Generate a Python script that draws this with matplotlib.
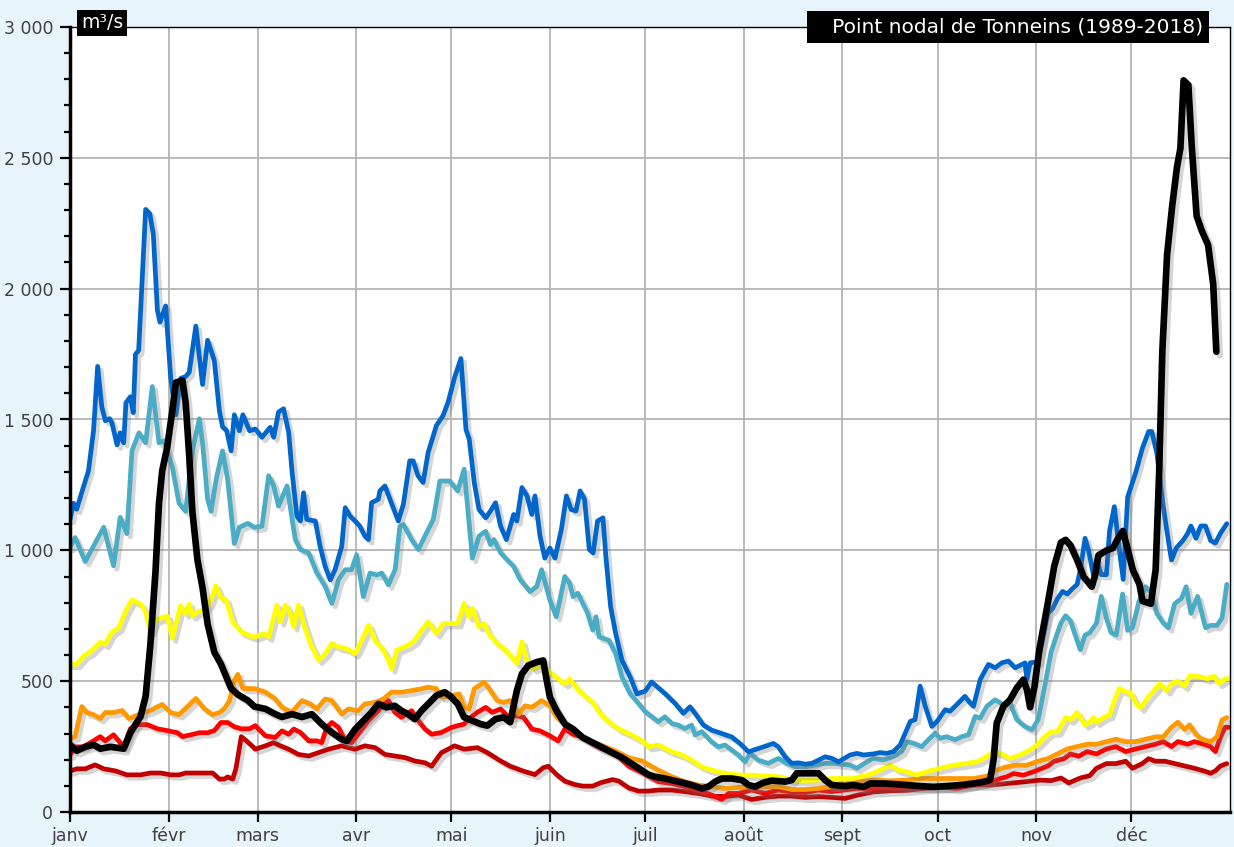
import matplotlib
matplotlib.use("Agg")
import matplotlib.pyplot as plt
import matplotlib.patheffects as pe
from matplotlib.ticker import FixedLocator, MultipleLocator, FuncFormatter

plt.rcParams['font.family'] = ['DejaVu Sans']

# ---------------- data ----------------
month_labels = ["janv", "févr", "mars", "avr", "mai", "juin", "juil", "août", "sept", "oct", "nov", "déc"]
month_start = [0, 31, 59, 90, 120, 151, 181, 212, 243, 273, 304, 334]
unit_label = "m³/s"
title_label = "Point nodal de Tonneins (1989-2018)"

blue_day = [0, 1.1, 2.1, 4.2, 5.8, 7.4, 8.7, 10, 11.1, 12.5, 13.2, 14.8, 15.8, 16.9, 17.6, 19, 19.9, 20.6, 21.6, 23.8, 25.1, 26.2, 27.5, 28.3, 30.1, 31.7, 33.3, 34.8, 36.4, 37.5, 39.6, 41.7, 43.3, 45.4, 47, 48, 49.3, 50.7, 51.7, 53.3, 54.4, 56.5,
            58.3, 60.4, 63, 64.1, 65.6, 67.2, 68.8, 69.9, 71.4, 72.5, 73.5, 74.5, 77.2, 78.7, 80.3, 81.9, 83.4, 85.5, 86.6, 88.1, 89.7, 91.2, 92.8, 93.9, 94.9, 97, 97.5, 99.1, 100.7, 102.3, 103.3, 104.9, 106.9, 108, 109.5, 111.1, 112.7, 115.3, 117.4, 119,
            121, 123, 124.6, 125.6, 127.2, 128.7, 130.8, 132.3, 133.9, 135.5, 137.3, 139.6, 140.6, 142.2, 143.8, 145.3, 146.3, 147.9, 149.4, 151, 152.6, 154.6, 156.2, 157.7, 159.2, 160.5, 161.9, 163.4, 164.6, 166, 167.7, 168.6, 170.1, 171.7, 173.7, 176.3, 178.4, 181,
            183, 187.2, 190.4, 193, 195.1, 196.7, 199.3, 201.9, 205.1, 208.2, 210.8, 213.5, 218.2, 221.3, 222.9, 225, 227.1, 229.2, 231.3, 233.4, 235.5, 237.6, 239.7, 241.8,
            245.5, 247.6, 249.7, 252.8, 254.9, 257, 259.1, 261.2, 262.8, 264.4, 265.9, 267.5, 269.1, 271.2, 272.8, 275.4, 276.9, 279, 281.6, 283.2, 284.3, 286.4, 289, 291.1, 293.2, 295.3, 297.4, 300.5, 301.1, 302.1,
            304.6, 307.7, 309.2, 310.7, 312.3, 313.8, 315.3, 316.9, 317.9, 319.4, 320.5, 322, 323, 324.5, 326.1, 327.1, 328.6, 330.2, 331.4, 332.8, 335.3, 337.4, 339.4, 340.4, 342, 344, 345.6, 346.6, 348.1, 350.2, 351.7, 352.7, 354.3, 355.8, 357.3, 358.9, 360.4, 362, 364]
blue_val = [1118, 1180, 1157, 1241, 1303, 1457, 1703, 1549, 1495, 1503, 1487, 1403, 1449, 1411, 1564, 1587, 1526, 1749, 1764, 2303, 2287, 2210, 1918, 1872, 1934, 1657, 1518, 1657, 1664, 1680, 1857, 1634, 1803, 1726, 1534, 1472, 1457, 1380, 1518, 1457, 1518, 1457,
            1464, 1432, 1470, 1432, 1528, 1541, 1451, 1297, 1131, 1112, 1220, 1118, 1112, 1015, 938, 887, 926, 1015, 1163, 1131, 1112, 1092, 1054, 1041, 1182, 1195, 1227, 1246, 1195, 1144, 1112, 1176, 1342, 1342, 1285, 1259, 1374, 1477, 1515, 1567,
            1660, 1733, 1462, 1426, 1259, 1156, 1124, 1150, 1182, 1092, 1041, 1137, 1112, 1240, 1208, 1137, 1208, 1054, 970, 1009, 970, 1079, 1208, 1156, 1150, 1227, 1195, 1003, 990, 1112, 1124, 977, 785, 682, 579, 515, 451, 462,
            497, 453, 415, 377, 402, 377, 332, 313, 300, 287, 262, 230, 249, 262, 249, 211, 186, 188, 183, 186, 198, 211, 205, 192,
            218, 224, 218, 222, 227, 224, 231, 256, 301, 346, 353, 481, 404, 327, 346, 391, 385, 410, 442, 417, 404, 506, 564, 551, 570, 577, 551, 570, 506, 570,
            574, 759, 778, 815, 843, 833, 852, 870, 926, 1046, 1000, 907, 963, 907, 907, 1074, 1167, 1000, 889, 1204, 1296, 1389, 1454, 1454, 1370, 1167, 1037, 963, 1009, 1037, 1065, 1093, 1046, 1093, 1093, 1037, 1028, 1065, 1102]

teal_day = [0, 1.6, 4.8, 10.6, 13.7, 15.8, 17.9, 19.5, 21.7, 23.8, 25.9, 28, 29.6, 32.2, 34.3, 36.4, 38.5, 40.7, 41.7, 43.3, 44.4, 46, 48, 49.6, 51.7, 53.3, 56, 58,
            60.4, 62.5, 64.1, 65.6, 68.3, 69.9, 70.9, 72.5, 75.1, 77.7, 80.3, 82.4, 84.5, 86.6, 88.6, 90.2, 92.3, 94.4, 96.5, 98.1, 100.2, 102.3, 103.8, 104.9, 107.5, 109.6, 111.7, 114.3, 116.4, 119.5,
            122, 124, 126.6, 128.7, 130.8, 132.3, 133.4, 135.5, 138, 139.6, 141.7, 144.8, 146.9, 148.4, 151, 153, 155.7, 157.2, 158.3, 159.8, 162.9, 164.5, 165.5, 166.5, 169.6, 171.7, 173.7, 176.3, 179,
            181, 182.5, 185.1, 187.2, 189.4, 191.4, 193.5, 195.6, 196.7, 198.8, 201.9, 204, 206.1, 208.2, 210.3, 212.4, 214, 216.6, 219.7, 222.9, 225.5, 228.2, 231.3, 234.4, 237.6, 240.7,
            245.5, 247.6, 250.8, 252.8, 256, 259.1, 261.7, 263.3, 265.4, 268, 270.6, 272.2, 273.8, 275.9, 278.5, 280.6, 282.7, 284.8, 286.4, 288.5, 291.1, 293.7, 295.8, 297.9, 300.5, 302.7,
            304.6, 306.7, 308.7, 310.2, 311.8, 313.3, 314.8, 316.3, 317.9, 319.4, 320.9, 323, 324.5, 326.1, 327.6, 329.2, 331.2, 332.8, 334.3, 336.4, 338.4, 340, 342, 344, 345.6, 347.6, 349.7, 351.2, 352.7, 354.8, 357.3, 358.9, 360.9, 362.5, 364]
teal_val = [1011, 1049, 957, 1088, 941, 1126, 1064, 1380, 1449, 1411, 1626, 1411, 1419, 1318, 1180, 1149, 1380, 1503, 1411, 1195, 1149, 1272, 1380, 1272, 1026, 1088, 1103, 1088,
            1092, 1285, 1246, 1169, 1246, 1118, 1041, 1003, 990, 913, 862, 797, 887, 926, 926, 983, 823, 913, 906, 913, 868, 926, 1092, 1099, 1041, 1003, 1054, 1118, 1265, 1265,
            1227, 1310, 970, 1054, 1073, 1022, 1041, 990, 958, 939, 887, 842, 862, 926, 810, 746, 900, 874, 823, 836, 759, 695, 746, 669, 656, 605, 515, 451, 413,
            383, 370, 345, 364, 338, 332, 319, 332, 294, 307, 268, 249, 256, 237, 218, 192, 224, 198, 186, 205, 186, 173, 173, 179, 186, 186,
            179, 167, 192, 205, 199, 212, 231, 269, 263, 250, 282, 301, 282, 288, 276, 288, 295, 365, 359, 404, 429, 410, 417, 353, 327, 314,
            352, 481, 611, 667, 722, 750, 731, 676, 620, 676, 685, 722, 824, 741, 685, 676, 833, 694, 704, 806, 861, 843, 759, 722, 704, 796, 815, 861, 759, 824, 704, 713, 713, 741, 870]

yellow_day = [0, 2.1, 4.2, 6.3, 9.5, 11.1, 13.2, 15.3, 17.4, 19.5, 22.2, 23.8, 25.3, 26.9, 30.6, 32.2, 33.3, 34.8, 36.4, 37.5, 38.5, 40.1, 42.2, 43.8, 45.9, 47.5, 49.1, 51.2, 53.9, 57,
              58.3, 61, 62.5, 65.1, 66.2, 67.8, 69.3, 70.4, 71.9, 73.5, 75.6, 78.2, 80.3, 82.4, 84.5, 87.1, 89.7, 91.8, 93.9, 96, 98.6, 100.2, 101.2, 102.8, 106.4, 108.5, 110.6, 112.7, 115.3, 117.4,
              119.9, 122, 124, 125.6, 126.6, 128.7, 130.3, 131.8, 133.9, 136.5, 138.5, 140.6, 142.2, 143.7, 145.8, 148.4, 151, 153.6, 155.7, 157.2, 158.8, 161.3, 164.5, 166.5, 169.1, 172.7, 176.3, 180,
              182, 185.1, 189.4, 192.5, 195.6, 198.8, 201.9, 206.1, 210.3, 214.5, 218.7, 222.9, 227.1, 231.3, 235.5, 239.7,
              242.3, 246.5, 250.8, 253.9, 258.1, 260.7, 263.3, 266.4, 269.6, 273.8, 278, 282.2, 285.4, 288.5, 290.6, 292.7, 295.8, 299, 302.1,
              304.6, 306.7, 308.7, 310.7, 313.3, 314.8, 316.9, 319.4, 320.9, 322, 323, 325.1, 327.1, 328.6, 330.2, 331.6, 333.8, 335.3, 336.9, 339, 341, 343, 345.1, 346.6, 348.6, 350.7, 352.3, 354.8, 357.9, 360, 361.5, 363.5, 364.6]
yellow_val = [565, 565, 595, 611, 649, 641, 688, 703, 765, 811, 795, 765, 688, 734, 749, 665, 718, 788, 757, 795, 749, 765, 772, 795, 864, 818, 811, 726, 688, 672,
              669, 682, 669, 791, 727, 791, 759, 708, 791, 720, 644, 580, 605, 644, 631, 624, 605, 656, 714, 656, 618, 580, 547, 618, 637, 656, 695, 727, 682, 720,
              720, 720, 797, 746, 778, 708, 720, 682, 650, 624, 599, 567, 650, 580, 547, 560, 535, 509, 490, 509, 483, 451, 419, 381, 349, 317, 297, 272,
              250, 256, 230, 218, 198, 173, 160, 148, 141, 141, 137, 135, 122, 120, 122, 128,
              128, 128, 141, 154, 179, 160, 154, 141, 154, 167, 179, 186, 192, 212, 231, 224, 205, 218, 237,
              259, 287, 306, 306, 361, 352, 380, 333, 343, 361, 343, 361, 370, 426, 472, 463, 454, 417, 398, 435, 463, 491, 463, 491, 500, 481, 519, 519, 509, 519, 491, 509, 509]

orange_day = [0, 1.6, 3.7, 5.3, 7.4, 9.5, 11.1, 13.7, 16.4, 18.5, 23.2, 25.3, 29, 31.7, 34.3, 37, 39.6, 42.2, 44.9, 47, 48.6, 50.2, 51.7, 52.8, 54.4, 56.5,
              58.3, 61.5, 64.6, 66.7, 69.8, 73, 75.6, 77.7, 80.3, 82.4, 85.5, 87.6, 90.7, 92.8, 96, 98.6, 101.2, 104.3, 107.5, 110.6, 112.7, 115.3, 116.9, 120,
              122.5, 124, 125.6, 127.2, 130.3, 132.3, 134.4, 136.5, 138.5, 141.2, 143.2, 145.3, 146.9, 148.4, 151, 153.1, 155.7, 159.3, 163.4, 167.6, 171.7, 175.8, 180,
              185.1, 189.4, 193.5, 197.7, 201.9, 206.1, 210.3, 214.5, 218.7, 222.9, 227.1, 231.3, 235.5, 239.7,
              247.6, 252.8, 258.1, 263.3, 267.5, 275.9, 284.3, 288.5, 291.6, 294.8, 297.9, 301.1,
              304.6, 307.7, 310.7, 313.8, 316.9, 320, 323, 326.1, 329.1, 332.2, 335.3, 338.4, 341.5, 344, 346.6, 348.6, 350.7, 352.3, 354.3, 356.3, 358.9, 360.9, 362.5, 364]
orange_val = [280, 288, 403, 380, 372, 357, 380, 380, 388, 357, 380, 388, 411, 380, 372, 403, 434, 395, 372, 380, 395, 426, 503, 526, 472, 472,
              471, 458, 432, 400, 381, 426, 413, 394, 432, 426, 374, 394, 387, 413, 419, 432, 458, 458, 464, 471, 477, 471, 439, 445,
              451, 400, 394, 471, 496, 464, 426, 419, 426, 374, 406, 400, 413, 426, 406, 362, 336, 304, 272, 253, 233, 208, 195,
              160, 135, 116, 103, 97, 90, 94, 97, 97, 97, 86, 86, 90, 97,
              115, 122, 119, 122, 128, 128, 128, 137, 160, 173, 179, 179,
              194, 204, 222, 241, 250, 259, 259, 269, 278, 269, 269, 278, 287, 287, 324, 343, 315, 333, 296, 278, 269, 287, 352, 361]

red_day = [0, 1.6, 4.2, 7.4, 9.5, 11.1, 13.7, 15.3, 16.9, 19, 21.1, 24.3, 27.5, 30.6, 33.8, 35.4, 38, 40.7, 43.3, 45.4, 47.5, 49.6, 51.7, 53.9, 56.5,
           58.3, 61.5, 64.6, 66.7, 68.8, 70.4, 72.5, 75.1, 77.7, 79.2, 80.8, 82.4, 84.5, 86.6, 88.6, 90.7, 93.9, 97, 98.6, 100.2, 102.2, 104.3, 107.5, 109.6, 111.7, 113.8, 116.9, 120,
           122, 124, 126.1, 128.2, 130.8, 132.8, 135.5, 138, 140.6, 142.7, 145.3, 147.9, 151, 153.6, 155.7, 158.3, 161.3, 164.5, 167.6, 171.7, 175.8, 180,
           182, 185.1, 189.4, 193.5, 197.7, 201.9, 205.1, 207.2, 210.3, 214.5, 218.7, 222.9, 227.1, 231.3, 235.5, 239.7,
           247.6, 252.8, 258.1, 263.3, 268.5, 273.8, 279, 284.3, 289.5, 292.7, 294.8, 296.9, 300, 303.2,
           307.7, 309.7, 312.8, 314.8, 317.4, 320, 323, 326.1, 329.1, 332.2, 335.3, 338.4, 341.5, 344, 346.6, 348.6, 351.7, 353.8, 356.8, 358.9, 360.4, 362, 363.5, 364.6]
red_val = [218, 249, 249, 272, 288, 272, 295, 272, 249, 318, 334, 334, 318, 311, 303, 288, 295, 303, 303, 311, 342, 342, 326, 318, 318,
           330, 291, 285, 310, 297, 317, 304, 272, 272, 265, 323, 342, 323, 272, 265, 297, 349, 387, 413, 426, 381, 362, 387, 349, 317, 297, 304, 323,
           330, 336, 362, 381, 400, 381, 394, 362, 368, 362, 317, 310, 291, 272, 317, 297, 285, 259, 240, 220, 175, 150,
           137, 116, 109, 97, 84, 65, 48, 71, 71, 84, 71, 84, 78, 74, 84, 78,
           90, 90, 96, 94, 96, 96, 90, 103, 115, 128, 135, 147, 141, 154,
           176, 194, 204, 222, 213, 231, 222, 241, 250, 231, 241, 250, 259, 269, 250, 269, 259, 269, 259, 250, 231, 287, 324, 324]

darkred_day = [0, 2.1, 4.8, 7.9, 10.6, 14.3, 17.9, 22.2, 25.3, 28.5, 31.7, 34.3, 36.4, 41.2, 44.9, 47, 48.6, 49.6, 51.2, 52.2, 53.9, 55.5, 57.6,
               58.3, 61.5, 64.1, 66.2, 68.8, 71.9, 75.1, 78.2, 81.4, 85.5, 87.6, 89.7, 92.8, 96, 99.1, 102.2, 105.4, 108.5, 111.7, 113.8, 115.3, 116.9, 119, 121,
               124, 128.2, 131.3, 135.5, 138.5, 142.7, 146.3, 148.9, 150.5, 153.1, 155.7, 158.8, 161.3, 164.5, 167, 170.7, 172.7, 175.8, 178.9, 182,
               185.1, 189.4, 193.5, 197.7, 201.9, 206.1, 210.3, 214.5, 218.7, 222.9, 227.1, 231.3, 235.5, 239.7,
               243.9, 247.6, 252.8, 258.1, 263.3, 268.5, 273.8, 279, 284.3, 289.5, 294.8, 300,
               305.3, 308.7, 311.8, 314.3, 317.9, 320.9, 323, 326.1, 329.1, 332.2, 334.3, 337.4, 339.4, 341.5, 344.6, 347.6, 350.7, 353.8, 356.8, 358.9, 360.4, 362, 364]
darkred_val = [157, 165, 165, 180, 165, 157, 142, 142, 149, 149, 142, 142, 149, 149, 149, 126, 126, 134, 126, 165, 288, 272, 249,
               240, 253, 265, 253, 240, 220, 214, 227, 240, 253, 246, 240, 253, 246, 220, 214, 208, 195, 188, 175, 201, 227, 240, 253,
               240, 246, 227, 195, 175, 156, 143, 169, 175, 143, 118, 105, 99, 99, 112, 124, 118, 92, 80, 80,
               84, 84, 78, 71, 61, 59, 65, 48, 56, 61, 61, 56, 59, 56,
               52, 64, 77, 81, 83, 90, 94, 96, 103, 103, 109, 115,
               122, 120, 130, 111, 130, 139, 167, 185, 185, 194, 167, 185, 204, 194, 194, 185, 176, 167, 157, 148, 157, 176, 185]

black_day = [0, 2.1, 4.8, 7.4, 9.5, 12.7, 16.9, 19, 22.2, 23.8, 25.3, 26.9, 28, 29, 30.6, 32.2, 33.3, 35.4, 36.4, 37.5, 38.5, 40.1, 41.7, 43.3, 45.4, 47.5, 49.1, 50.7, 52.8, 56, 58,
             61.5, 64.6, 66.7, 69.8, 73, 76.1, 79.2, 82.4, 85.5, 87.1, 89.7, 92.8, 94.9, 97, 99.6, 102.2, 104.3, 106.4, 108.5, 110.6, 112.7, 115.3, 117.9, 120,
             122, 124, 126.6, 129.2, 131.3, 133.9, 136.5, 138.5, 140.6, 142.2, 144.2, 146.9, 148.9, 150, 151, 153.1, 155.7, 158.3, 161.3, 165.5, 169.6, 173.7, 177.9, 182,
             184, 187.2, 191.4, 195.6, 198.8, 200.9, 203, 205.1, 208.2, 211.4, 213.5, 215.6, 218.2, 220.8, 225, 227.1, 228.7, 231.3, 235.5, 237.6, 239.7, 243.9,
             246.5, 249.7, 251.8, 256, 260.2, 263.3, 267.5, 271.7, 275.9, 280.1, 284.3, 287.4, 289.5, 290.6, 291.6, 293.7, 295.8, 297.9, 300, 301.1, 302.1,
             303.5, 305, 306.2, 307.7, 309.7, 311.8, 313.3, 314.8, 316.9, 319, 321.5, 322.6, 323.6, 326.2, 328.2, 329.8, 331.3, 332.9, 334.4, 336.5, 337.5, 340.1, 341.6, 342.7, 343.7, 345.2, 346.8, 348.3, 349.4, 350.4, 351.9, 353, 354.5, 356.1, 358.1, 359.7, 360.7]
black_val = [257, 234, 249, 257, 242, 249, 242, 303, 365, 442, 641, 918, 1180, 1303, 1395, 1534, 1641, 1649, 1564, 1364, 1149, 964, 857, 718, 611, 565, 518, 472, 449, 426, 403,
             394, 374, 363, 374, 363, 374, 336, 304, 278, 271, 316, 355, 381, 413, 400, 406, 387, 374, 355, 387, 413, 445, 458, 439,
             413, 362, 349, 336, 330, 355, 362, 343, 464, 528, 560, 573, 579, 503, 439, 387, 336, 317, 285, 259, 233, 208, 175, 143,
             135, 128, 116, 103, 90, 97, 116, 128, 128, 122, 103, 97, 112, 120, 116, 122, 148, 148, 148, 122, 103, 99,
             103, 96, 109, 109, 106, 103, 99, 96, 99, 103, 109, 115, 122, 199, 340, 404, 429, 474, 506, 468, 400,
             480, 620, 700, 800, 940, 1030, 1040, 1019, 963, 898, 861, 907, 981, 1000, 1009, 1046, 1074, 1000, 926, 870, 806, 796, 926, 1296, 1759, 2130, 2315, 2463, 2537, 2796, 2778, 2537, 2278, 2222, 2167, 2019, 1759]

# ---------------- figure ----------------
W, H = 1234, 847
fig = plt.figure(figsize=(W / 100, H / 100), dpi=100, facecolor="#e8f4fc")
ax = fig.add_axes([70 / W, 1 - 812 / H, 1160 / W, 785 / H])
ax.set_facecolor("white")

shadow = [pe.SimpleLineShadow(offset=(2.5, -2.5), shadow_color="#777777", alpha=0.3),
          pe.Normal()]

series = [
    (darkred_day, darkred_val, "#c00000", 3.4),
    (red_day, red_val, "#ff0000", 3.4),
    (orange_day, orange_val, "#ff9900", 3.4),
    (yellow_day, yellow_val, "#ffff00", 3.4),
    (teal_day, teal_val, "#4bacc6", 3.4),
    (blue_day, blue_val, "#0066cc", 3.4),
    (black_day, black_val, "#000000", 4.8),
]
for i, (d, v, c, lw) in enumerate(series):
    ax.plot(d, v, color=c, lw=lw, solid_joinstyle="round", solid_capstyle="round",
            path_effects=shadow, zorder=3 + i)

ax.set_xlim(0, 365)
ax.set_ylim(0, 3000)

ax.xaxis.set_major_locator(FixedLocator(month_start))
ax.set_xticklabels(month_labels)
ax.yaxis.set_major_locator(MultipleLocator(500))
ax.yaxis.set_minor_locator(MultipleLocator(100))
ax.yaxis.set_major_formatter(FuncFormatter(lambda v, p: f"{int(v):,}".replace(",", " ")))

ax.grid(True, which="major", color="#b4b4b4", lw=1.3, zorder=0)
ax.set_axisbelow(True)

ax.tick_params(axis="both", which="major", direction="out", length=7, width=1.6,
               color="black", labelsize=12.5, labelcolor="#404040")
ax.tick_params(axis="y", which="minor", direction="out", length=4, width=1.6, color="black")
ax.tick_params(axis="x", pad=4)
ax.tick_params(axis="y", pad=5)

for s in ("left", "bottom"):
    ax.spines[s].set_linewidth(2.5)
for s in ("top", "right"):
    ax.spines[s].set_linewidth(1.0)
for s in ax.spines.values():
    s.set_color("black")
    s.set_zorder(20)

fig.text(81 / W, 1 - 23 / H, unit_label, color="white", fontsize=13.5, ha="left", va="center",
         bbox=dict(boxstyle="square,pad=0.2", facecolor="black", edgecolor="none"), zorder=30)
fig.text(1203 / W, 1 - 27 / H, "   " + title_label, color="white", fontsize=14.5, ha="right", va="center",
         bbox=dict(boxstyle="square,pad=0.3", facecolor="black", edgecolor="none"), zorder=30)

fig.savefig("out.png", dpi=100, facecolor=fig.get_facecolor())
